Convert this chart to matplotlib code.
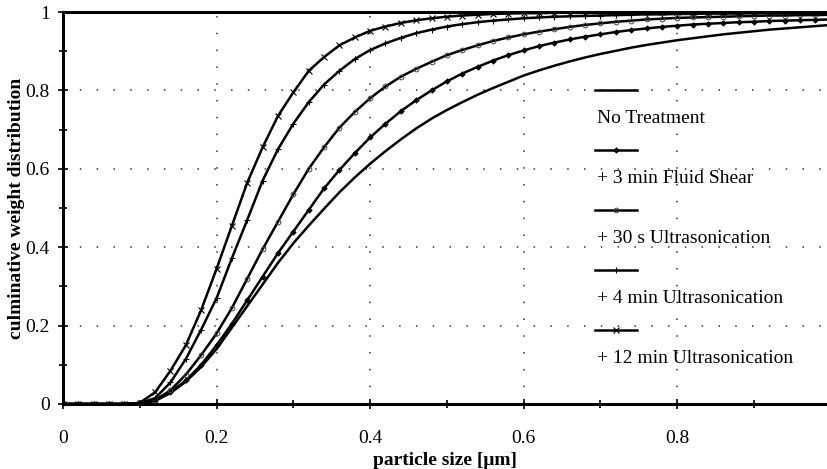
import matplotlib
matplotlib.use("Agg")
import matplotlib.pyplot as plt
from matplotlib.ticker import FixedLocator, FixedFormatter, MultipleLocator

plt.rcParams['font.family'] = ['Liberation Serif', 'DejaVu Serif']

# ---------------- data ----------------
particle_size = [0.00, 0.02, 0.04, 0.06, 0.08, 0.10, 0.12, 0.14, 0.16, 0.18,
                 0.20, 0.22, 0.24, 0.26, 0.28, 0.30, 0.32, 0.34, 0.36, 0.38,
                 0.40, 0.42, 0.44, 0.46, 0.48, 0.50, 0.52, 0.54, 0.56, 0.58,
                 0.60, 0.62, 0.64, 0.66, 0.68, 0.70, 0.72, 0.74, 0.76, 0.78,
                 0.80, 0.82, 0.84, 0.86, 0.88, 0.90, 0.92, 0.94, 0.96, 0.98,
                 1.00]

no_treatment = [0, 0, 0, 0, 0, 0.002, 0.008, 0.028, 0.057, 0.095,
                0.14, 0.195, 0.25, 0.305, 0.36, 0.41, 0.455, 0.498, 0.54, 0.578,
                0.613, 0.645, 0.675, 0.703, 0.728, 0.75, 0.77, 0.789, 0.806, 0.822,
                0.838, 0.851, 0.863, 0.874, 0.884, 0.893, 0.901, 0.909, 0.916, 0.922,
                0.928, 0.933, 0.938, 0.943, 0.947, 0.951, 0.955, 0.958, 0.961, 0.964,
                0.967]

fluid_shear_3min = [0, 0, 0, 0, 0, 0.002, 0.008, 0.03, 0.06, 0.10,
                    0.15, 0.205, 0.265, 0.325, 0.385, 0.44, 0.495, 0.55, 0.597, 0.64,
                    0.68, 0.715, 0.747, 0.775, 0.80, 0.823, 0.843, 0.86, 0.876, 0.89,
                    0.902, 0.913, 0.922, 0.93, 0.937, 0.943, 0.949, 0.954, 0.958, 0.962,
                    0.965, 0.968, 0.97, 0.972, 0.974, 0.975, 0.977, 0.978, 0.979, 0.98,
                    0.981]

ultra_30s = [0, 0, 0, 0, 0, 0.002, 0.01, 0.035, 0.075, 0.125,
             0.18, 0.245, 0.32, 0.395, 0.465, 0.535, 0.60, 0.655, 0.705, 0.745,
             0.78, 0.81, 0.835, 0.855, 0.873, 0.89, 0.903, 0.915, 0.926, 0.935,
             0.943, 0.95, 0.956, 0.962, 0.967, 0.971, 0.975, 0.978, 0.981, 0.983,
             0.985, 0.986, 0.987, 0.988, 0.989, 0.99, 0.991, 0.991, 0.992, 0.992,
             0.993]

ultra_4min = [0, 0, 0, 0, 0, 0.002, 0.015, 0.055, 0.115, 0.19,
              0.27, 0.372, 0.47, 0.57, 0.65, 0.715, 0.77, 0.815, 0.85, 0.88,
              0.903, 0.92, 0.934, 0.946, 0.955, 0.963, 0.969, 0.974, 0.978, 0.981,
              0.984, 0.986, 0.988, 0.989, 0.99, 0.991, 0.992, 0.993, 0.994, 0.994,
              0.995, 0.995, 0.996, 0.996, 0.996, 0.997, 0.997, 0.997, 0.998, 0.998,
              0.998]

ultra_12min = [0, 0, 0, 0, 0, 0.003, 0.03, 0.085, 0.15, 0.24,
               0.345, 0.455, 0.565, 0.655, 0.735, 0.795, 0.85, 0.885, 0.915, 0.935,
               0.952, 0.963, 0.972, 0.979, 0.984, 0.988, 0.991, 0.993, 0.995, 0.996,
               0.997, 0.997, 0.998, 0.998, 0.998, 0.998, 0.999, 0.999, 0.999, 0.999,
               0.999, 0.999, 0.999, 0.999, 0.999, 0.999, 0.999, 0.999, 0.999, 0.999,
               0.999]

series_labels = ["No Treatment", "+ 3 min Fluid Shear", "+ 30 s Ultrasonication",
                 "+ 4 min Ultrasonication", "+ 12 min Ultrasonication"]
series_values = [no_treatment, fluid_shear_3min, ultra_30s, ultra_4min, ultra_12min]

x_ticks = [0, 0.2, 0.4, 0.6, 0.8, 1.0]
x_tick_labels = ["0", "0.2", "0.4", "0.6", "0.8", "1"]
y_ticks = [0, 0.2, 0.4, 0.6, 0.8, 1.0]
y_tick_labels = ["0", "0.2", "0.4", "0.6", "0.8", "1"]

# ---------------- styles ----------------
styles = [
    dict(marker=None),
    dict(marker='D', markersize=2.8, markerfacecolor='black', markeredgecolor='black', markeredgewidth=0.5),
    dict(marker='o', markersize=3.4, markerfacecolor='none', markeredgecolor='#444444', markeredgewidth=0.7),
    dict(marker='+', markersize=4.5, markeredgecolor='black', markeredgewidth=0.8),
    dict(marker='x', markersize=4.0, markeredgecolor='black', markeredgewidth=0.8),
]

fig = plt.figure(figsize=(8.27, 4.69), dpi=100)
ax = fig.add_axes([63 / 827, 1 - 404 / 469, 764 / 827, 392 / 469])

for vals, st in zip(series_values, styles):
    ax.plot(particle_size, vals, color='black', linewidth=1.8, **st, zorder=3)

ax.set_xlim(0, 0.995)
ax.set_ylim(0, 1)

ax.xaxis.set_major_locator(FixedLocator(x_ticks))
ax.xaxis.set_major_formatter(FixedFormatter(x_tick_labels))
ax.yaxis.set_major_locator(FixedLocator(y_ticks))
ax.yaxis.set_major_formatter(FixedFormatter(y_tick_labels))
ax.xaxis.set_minor_locator(MultipleLocator(0.1))
ax.yaxis.set_minor_locator(MultipleLocator(0.1))

ax.tick_params(axis='both', which='both', direction='inout', width=1.2, colors='black')
ax.tick_params(axis='both', which='major', length=7)
ax.tick_params(axis='both', which='minor', length=6)
ax.tick_params(axis='x', which='major', pad=15, labelsize=14)
ax.tick_params(axis='y', which='major', pad=6, labelsize=14)
ax.tick_params(top=False, right=False, which='both')

for side in ['left', 'bottom', 'top']:
    ax.spines[side].set_linewidth(2.2)
ax.spines['right'].set_visible(False)

# dotted grid at inner major ticks
for gx in x_ticks[1:-1]:
    ax.axvline(gx, color='#333333', linewidth=1.1, linestyle=(0, (1, 10)), zorder=1)
for gy in y_ticks[1:-1]:
    ax.axhline(gy, color='#333333', linewidth=1.1, linestyle=(0, (1, 10)), zorder=1)

ax.set_xlabel("particle size [\u03bcm]", fontsize=14, fontweight='bold')
ax.set_ylabel("culminative weight distribution", fontsize=14, fontweight='bold')
ax.xaxis.set_label_coords(0.5, -0.122)
ax.yaxis.set_label_coords(-0.05, 0.5)

# custom legend: sample line above each label
leg_x0, leg_x1 = 0.696, 0.751
leg_y_top = 0.801
leg_step = 60 / 392
for i, (lab, st) in enumerate(zip(series_labels, styles)):
    yl = leg_y_top - i * leg_step
    ax.plot([leg_x0, leg_x1], [yl, yl], transform=ax.transAxes, color='black',
            linewidth=1.8, clip_on=False)
    if st.get('marker'):
        ax.plot([(leg_x0 + leg_x1) / 2], [yl], transform=ax.transAxes, color='black',
                linestyle='none', clip_on=False, **st)
    ax.text(leg_x0 + 0.003, yl - 28 / 392, lab, transform=ax.transAxes,
            fontsize=14, ha='left', va='center')

fig.savefig("out.png", dpi=100)
